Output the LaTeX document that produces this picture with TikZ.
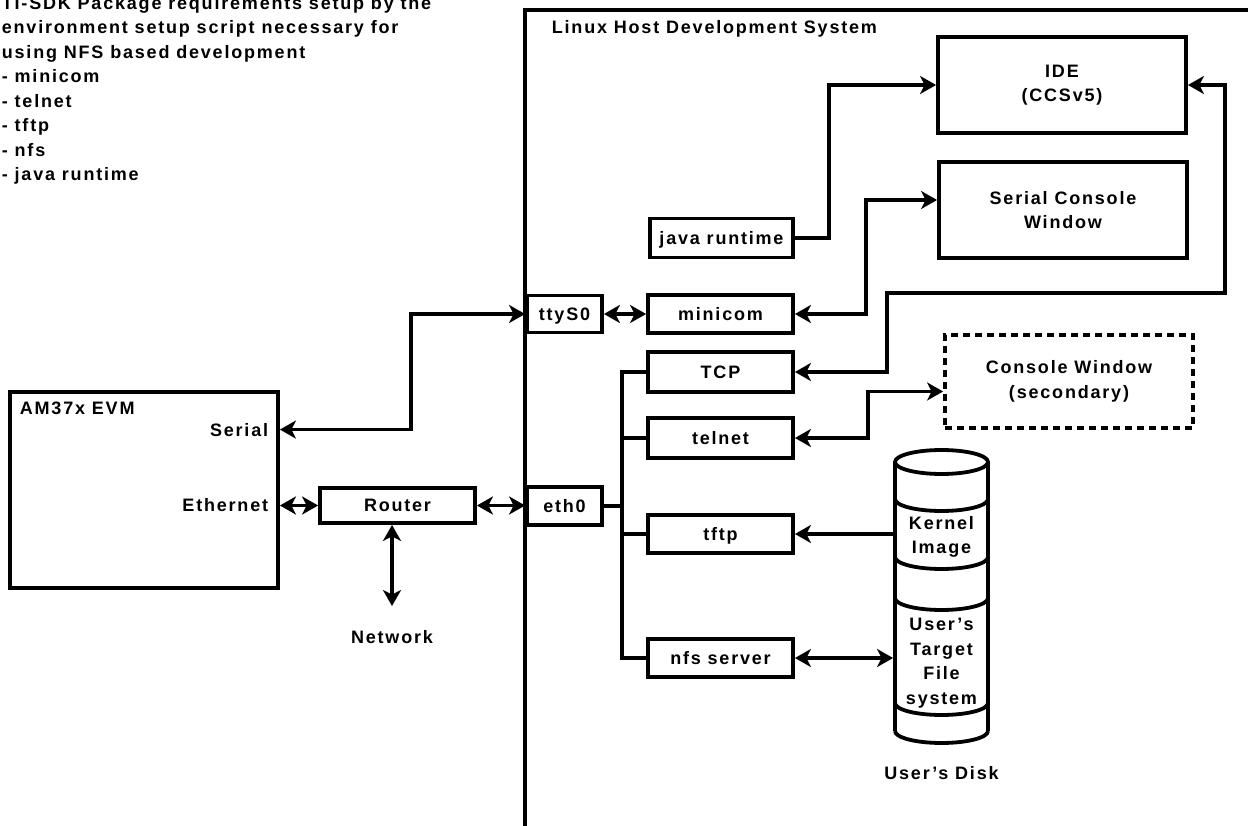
\documentclass[tikz,border=0pt]{standalone}
\usepackage{fontspec}
\setmainfont{Liberation Sans}[LetterSpace=10]
\usetikzlibrary{arrows.meta}
\newcommand\dtxt{\fontsize{18pt}{24.5pt}\selectfont\bfseries}
\begin{document}
\begin{tikzpicture}[x=1pt,y=-1pt, line width=3.8pt, font=\dtxt,
  box/.style={draw, rectangle, inner sep=0pt, minimum width=145pt, minimum height=38pt, text height=12.9pt, text depth=0pt},
  bigbox/.style={draw, rectangle, inner sep=0pt, minimum width=248pt, minimum height=96pt, align=center},
  lbl/.style={inner sep=0pt},
  arr/.style={-{Stealth[length=16pt,width=18pt,inset=4.5pt]}},
  dbl/.style={{Stealth[length=16pt,width=18pt,inset=4.5pt]}-{Stealth[length=16pt,width=18pt,inset=4.5pt]}}]
\useasboundingbox (0,0) rectangle (1248,826);
\fill[white] (0,0) rectangle (1248,826);

% title text
\node[lbl, anchor=north west, align=left] (title) at (0,-5.5) {TI-SDK Package requirements setup by the\\environment setup script necessary for\\using NFS based development\\- minicom\\- telnet\\- tftp\\- nfs\\- java runtime};

% host system
\node[draw, inner sep=0pt, anchor=north west, minimum width=800pt, minimum height=900pt] (host) at (523,8) {};
\node[lbl, anchor=base west] (hostlbl) at (550,34) {Linux Host Development System};

% EVM
\node[draw, inner sep=0pt, minimum width=268pt, minimum height=196pt] (evm) at (144,490) {};
\node[lbl, anchor=base west] (evmlbl) at (18,414) {AM37x EVM};
\node[lbl, anchor=base east] (lblserial) at (270,436) {Serial};
\node[lbl, anchor=base east] (lbleth) at (270,511) {Ethernet};

% router
\node[box, minimum width=155pt, minimum height=35pt] (router) at (397.5,505.5) {Router};
\node[lbl, anchor=base] (network) at (392,643) {Network};

% host boxes
\node[box, minimum width=75pt, minimum height=37pt] (ttys) at (564.5,314) {ttyS0};
\node[box, minimum width=75pt] (eth) at (564.5,506) {eth0};
\node[box, minimum width=143pt, minimum height=39pt] (java) at (721.5,238) {java runtime};
\node[box] (minicom) at (720.5,314) {minicom};
\node[box, minimum height=40pt] (tcp) at (720.5,372) {TCP};
\node[box, minimum height=40pt] (telnet) at (720.5,438) {telnet};
\node[box] (tftp) at (720.5,534) {tftp};
\node[box] (nfs) at (720.5,658) {nfs server};
\node[bigbox] (ide) at (1062,85) {IDE\\(CCSv5)};
\node[bigbox] (sercon) at (1063,210) {Serial Console\\Window};
\node[bigbox, minimum height=93pt, dash pattern=on 7pt off 5pt] (console) at (1069,381.5) {Console Window\\(secondary)};

% disk
\node[inner sep=0pt, minimum width=93pt, minimum height=268pt] (disk) at (941.5,597) {};
\draw (941.5,462) ellipse [x radius=46.5pt, y radius=12pt];
\draw (895,462) -- (895,731);
\draw (988,462) -- (988,731);
\foreach \yy in {499,557,598,703,731}
  \draw (895,\yy) arc[start angle=180, end angle=360, x radius=46.5pt, y radius=12pt];
\node[lbl, align=center] (kernel) at (941.5,537) {Kernel\\Image};
\node[lbl, align=center] (fs) at (941.5,663) {User's\\Target\\File\\system};
\node[lbl, anchor=base] (diskname) at (941.5,779) {User's Disk};

% connectors
\coordinate (vser) at (411,0);
\draw[dbl] (ttys.west) -- (ttys.west -| vser) |- (evm.east |- lblserial);
\draw[dbl] (router.west -| evm.east) -- (router.west);
\draw[dbl] (router.east) -- (router.east -| eth.west);
\draw[dbl] (router.south -| network.north) -- ([yshift=22pt]network.north);
\draw[dbl] (ttys.east) -- (minicom.west);
\coordinate (bus) at (622,372);
\draw (tcp.west) -- (bus) |- (nfs.west);
\draw (telnet.west) -- (telnet.west -| bus);
\draw (tftp.west) -- (tftp.west -| bus);
\draw (eth.east) -- (eth.east -| bus);
\coordinate (vjava) at (829,0);
\draw[arr] (java.east) -- (java.east -| vjava) |- (ide.west);
\coordinate (vmini) at (866,0);
\draw[dbl] (minicom.east) -- (minicom.east -| vmini) |- ([yshift=10pt]sercon.west);
\coordinate (lr) at (1225,293);
\coordinate (ll) at (887,293);
\draw[dbl] (ide.east) -| (lr) -- (ll) |- (tcp.east);
\coordinate (vtel) at (868,0);
\draw[dbl] (telnet.east) -- (telnet.east -| vtel) |- ([yshift=-10pt]console.west);
\draw[arr] (disk.west |- tftp.east) -- (tftp.east);
\draw[dbl] (nfs.east) -- (nfs.east -| disk.west);
\end{tikzpicture}
\end{document}
